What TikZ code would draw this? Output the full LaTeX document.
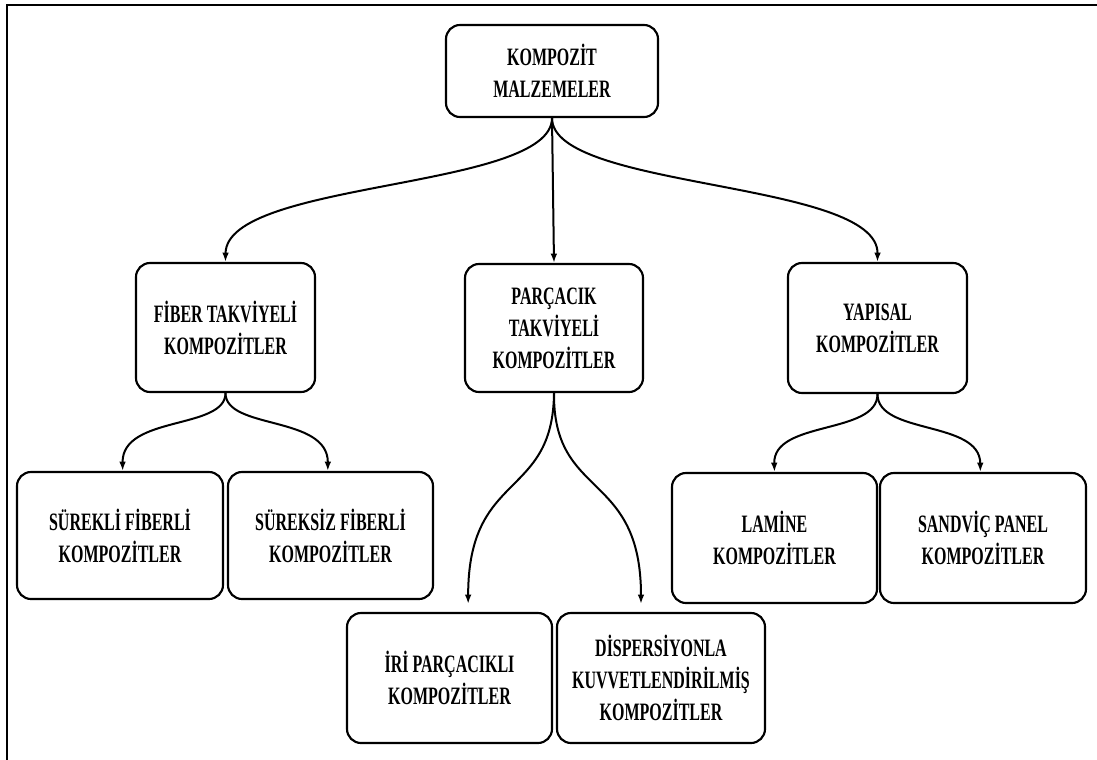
\documentclass[tikz,border=0pt]{standalone}
\usepackage{fontspec}
\setmainfont{Liberation Serif}[FakeStretch=0.64]
\usetikzlibrary{arrows.meta}
\begin{document}
\begin{tikzpicture}[x=0.75pt,y=-0.75pt,
  box/.style={draw,line width=1.6pt,rounded corners=10.5pt,inner sep=0pt,align=center,
    font=\fontsize{18.75}{24}\selectfont\bfseries},
  arr/.style={line width=1.5pt,-{Latex[length=7pt,width=5pt]}}]
\useasboundingbox (0,0) rectangle (1097,760);
\draw[line width=1.5pt] (1097,4.5) -- (7,4.5) -- (7,760);
\node[box,minimum width=159pt,minimum height=69pt] (top) at (552,71) {KOMPOZİT\\MALZEMELER};
\node[box,minimum width=134.25pt,minimum height=96.75pt] (fib) at (225.5,327.5) {FİBER TAKVİYELİ\\KOMPOZİTLER};
\node[box,minimum width=133.5pt,minimum height=96pt] (par) at (554,328) {PARÇACIK\\TAKVİYELİ\\KOMPOZİTLER};
\node[box,minimum width=134.25pt,minimum height=97.5pt] (yap) at (877.5,328) {YAPISAL\\KOMPOZİTLER};
\node[box,minimum width=154.5pt,minimum height=95.25pt] (sur) at (120,535.5) {SÜREKLİ FİBERLİ\\KOMPOZİTLER};
\node[box,minimum width=153.75pt,minimum height=95.25pt] (surz) at (330.5,535.5) {SÜREKSİZ FİBERLİ\\KOMPOZİTLER};
\node[box,minimum width=153.75pt,minimum height=97.5pt] (iri) at (449.5,678) {İRİ PARÇACIKLI\\KOMPOZİTLER};
\node[box,minimum width=156pt,minimum height=97.5pt] (disp) at (661,678) {DİSPERSİYONLA\\KUVVETLENDİRİLMİŞ\\KOMPOZİTLER};
\node[box,minimum width=153.75pt,minimum height=97.5pt] (lam) at (774.5,538) {LAMİNE\\KOMPOZİTLER};
\node[box,minimum width=154.5pt,minimum height=97.5pt] (san) at (983,538) {SANDVİÇ PANEL\\KOMPOZİTLER};
% top level
\draw[arr] (top.south) .. controls (552,190) and (226,180) .. (fib.north);
\draw[arr] (top.south) -- (par.north);
\draw[arr] (top.south) .. controls (552,190) and (878,180) .. (yap.north);
% fiber
\draw[arr] (fib.south) .. controls (225.5,430) and (122,415) .. ([xshift=2pt]sur.north);
\draw[arr] (fib.south) .. controls (225.5,430) and (328,415) .. ([xshift=-2pt]surz.north);
% parcacik
\draw[arr,shorten >=6pt] (par.south) .. controls (553,500) and (468,470) .. ([xshift=14pt]iri.north);
\draw[arr,shorten >=6pt] (par.south) .. controls (553,500) and (641,470) .. ([xshift=-15pt]disp.north);
% yapisal
\draw[arr] (yap.south) .. controls (877.5,435) and (773,420) .. (lam.north);
\draw[arr] (yap.south) .. controls (877.5,435) and (980,420) .. ([xshift=-2pt]san.north);
\end{tikzpicture}
\end{document}
